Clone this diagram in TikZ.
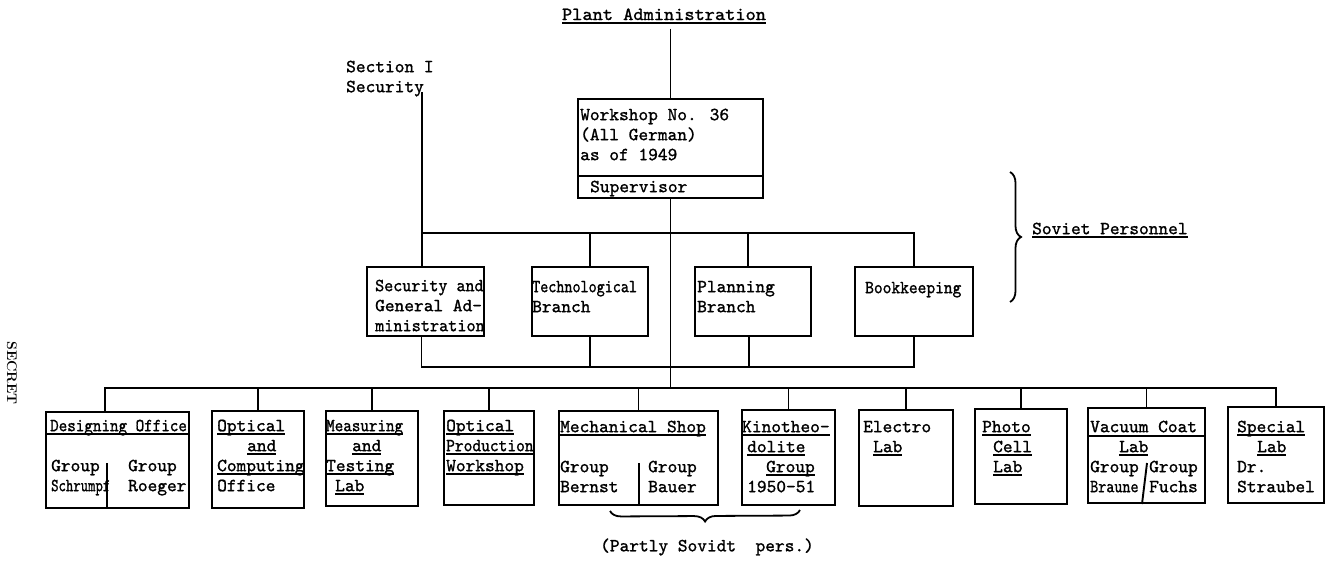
\documentclass[tikz,border=0pt]{standalone}
\usepackage{fontspec}
\usepackage{graphicx}
\usetikzlibrary{calc,decorations.pathreplacing}
\newfontfamily\tw{lmmono10-regular}[Extension=.otf, FakeBold=1.2]
\newcommand\tsz{\fontsize{18.5}{20}\selectfont\tw\bfseries}
\newcommand\sx[2]{\scalebox{#1}[1]{#2}}
\newcommand\tul[1]{\setbox0=\hbox{#1}\rlap{\rule[-3.5pt]{\wd0}{1.6pt}}\box0}
\begin{document}
\begin{tikzpicture}[x=1pt,y=-1pt,
  box/.style={draw, line width=2pt, inner sep=0pt, anchor=north west},
  conn/.style={line width=1.9pt},
  txt/.style={inner sep=0pt, anchor=north west, align=left, font=\tsz},
  plain/.style={inner sep=0pt, font=\tsz},
  bracestyle/.style={line width=1.8pt, decorate, decoration={brace, amplitude=11pt}}]
\fill[white] (0,0) rectangle (1330,560);
\useasboundingbox (0,0) rectangle (1330,560);

% ---- boxes
\node[box, minimum width=185pt, minimum height=99pt] (ws) at (577,98) {};
\node[box, minimum width=117pt, minimum height=69pt] (sec) at (366,266) {};
\node[box, minimum width=116pt, minimum height=69pt] (tech) at (531,266) {};
\node[box, minimum width=116pt, minimum height=69pt] (plan) at (694,266) {};
\node[box, minimum width=118pt, minimum height=69pt] (book) at (854,266) {};

\node[box, minimum width=143pt, minimum height=96pt] (des) at (45,411) {};
\node[box, minimum width=92pt, minimum height=97pt] (opt) at (211,410) {};
\node[box, minimum width=92pt, minimum height=95pt] (mea) at (325,410) {};
\node[box, minimum width=90pt, minimum height=94pt] (opp) at (443,410) {};
\node[box, minimum width=159pt, minimum height=94pt] (mec) at (558,410) {};
\node[box, minimum width=93pt, minimum height=95pt] (kin) at (741,409) {};
\node[box, minimum width=94pt, minimum height=96pt] (ele) at (858,409) {};
\node[box, minimum width=92pt, minimum height=95pt] (pho) at (974,408) {};
\node[box, minimum width=117pt, minimum height=95pt] (vac) at (1087,407) {};
\node[box, minimum width=96pt, minimum height=96pt] (spe) at (1227,406) {};

% ---- dividers inside boxes
\draw[conn] ($(ws.north west)+(0,78)$) -- ($(ws.north east)+(0,78)$);
\draw[conn] ($(des.north west)+(0,23)$) -- ($(des.north east)+(0,23)$);
\draw[conn] ($(des.north west)+(62,52)$) -- ($(des.south west)+(62,0)$);
\draw[conn] ($(mec.north west)+(81,53)$) -- ($(mec.south west)+(81,0)$);
\draw[conn] ($(vac.north west)+(0,29)$) -- ($(vac.north east)+(0,29)$);
\draw[conn] ($(vac.north west)+(60,56)$) -- ($(vac.south west)+(55,0)$);

% ---- texts
\node[plain, anchor=base] (pa) at (664,20) {\tul{\sx{1.05}{Plant Administration}}};
\node[txt] (tsec1) at (346,58) {\strut Section I\\Security};
\node[txt] (tws) at (580,106) {\strut Workshop No. 36\\(All German)\\as of 1949};
\node[txt] (tsup) at (590,178) {\strut Supervisor};
\node[txt] (tsec) at (375,277) {\strut\sx{0.93}{Security and}\\General Ad-\\\sx{0.94}{ministration}};
\node[txt] (ttech) at (532,278) {\strut\sx{0.83}{Technological}\\Branch};
\node[txt] (tplan) at (697,278) {\strut Planning\\Branch};
\node[txt] (tbook) at (865,279) {\strut\sx{0.9}{Bookkeeping}};
\node[txt] (tsov) at (1032,220) {\strut\tul{Soviet Personnel}};

\node[txt] (tdes) at (50,417) {\strut\sx{0.88}{Designing Office}};
\node[txt] (tdes1) at (51,457) {\strut Group\\\sx{0.76}{Schrumpf}};
\node[txt] (tdes2) at (128,457) {\strut Group\\Roeger};
\node[txt] (topt) at (217,417) {\strut\tul{Optical}\\\hspace*{30pt}\tul{and}\\\tul{Computing}\\Office};
\node[txt] (tmea) at (326,417) {\strut\tul{\sx{0.88}{Measuring}}\\\hspace*{26pt}\tul{and}\\\tul{Testing}\\\hspace*{9pt}\tul{Lab}};
\node[txt] (topp) at (446,417) {\strut\tul{Optical}\\\tul{\sx{0.9}{Production}}\\\tul{Workshop}};
\node[txt] (tmec) at (560,418) {\strut\tul{Mechanical Shop}};
\node[txt] (tmec1) at (560,458) {\strut Group\\Bernst};
\node[txt] (tmec2) at (648,458) {\strut Group\\Bauer};
\node[txt] (tkin) at (742,418) {\strut\tul{Kinotheo-}\\\hspace*{5pt}\tul{dolite}\\\hspace*{24pt}\tul{Group}\\\hspace*{5pt}1950-51};
\node[txt] (tele) at (863,418) {\strut Electro\\\hspace*{10pt}\tul{Lab}};
\node[txt] (tpho) at (982,418) {\strut\tul{Photo}\\\hspace*{11pt}\tul{Cell}\\\hspace*{11pt}\tul{Lab}};
\node[txt] (tvac) at (1090,418) {\strut Vacuum Coat\\\hspace*{29pt}\tul{Lab}};
\node[txt] (tvac1) at (1090,458) {\strut Group\\\sx{0.83}{Braune}};
\node[txt] (tvac2) at (1149,458) {\strut Group\\Fuchs};
\node[txt] (tspe) at (1237,418) {\strut\tul{Special}\\\hspace*{20pt}\tul{Lab}\\Dr.\\Straubel};

\node[plain] (tpart) at (707,547) {(Partly Sovidt\ \ pers.)};
\node[rotate=-90, inner sep=0pt, font=\fontsize{14}{16}\selectfont\bfseries] (secret) at (12,373) {SECRET};

% ---- connectors
\coordinate (sectop) at (422,92);
\coordinate (bus1) at (0,233);
\coordinate (bus2) at (0,367);
\coordinate (bus3) at (0,388);
\coordinate (desd) at ($(des.north west)+(60,0)$);
\coordinate (secb) at ($(sec.south)+(-4,0)$);
\coordinate (plant) at ($(plan.north)+(-5,0)$);
\coordinate (planb) at ($(plan.south)+(-4,0)$);
\coordinate (pal) at ($(pa.south)+(0,5)$);

\draw[conn] (ws.north |- pal) -- (ws.north);
\draw[conn] (sectop) -- (sectop |- sec.north);
\draw[conn] (sectop |- bus1) -- (book.north |- bus1) -- (book.north);
\draw[conn] (tech.north |- bus1) -- (tech.north);
\draw[conn] (plant |- bus1) -- (plant);
\draw[conn] (secb) -- (secb |- bus2) -- (book.south |- bus2) -- (book.south);
\draw[conn] (tech.south) -- (tech.south |- bus2);
\draw[conn] (planb) -- (planb |- bus2);
\draw[conn] (ws.south) -- (ws.south |- bus3);

\draw[conn] (desd) -- (desd |- bus3) -- (spe.north |- bus3) -- (spe.north);
\foreach \b in {opt,mea,opp,mec,kin,ele,pho,vac}
  \draw[conn] (\b.north |- bus3) -- (\b.north);

% ---- braces
\coordinate (bt) at (1010,172);
\coordinate (bb) at (1010,302);
\draw[bracestyle] (bt) -- (bb);
\coordinate (bl) at (610,511);
\coordinate (br) at (800,510);
\draw[bracestyle] (br) -- (bl);
\end{tikzpicture}
\end{document}
